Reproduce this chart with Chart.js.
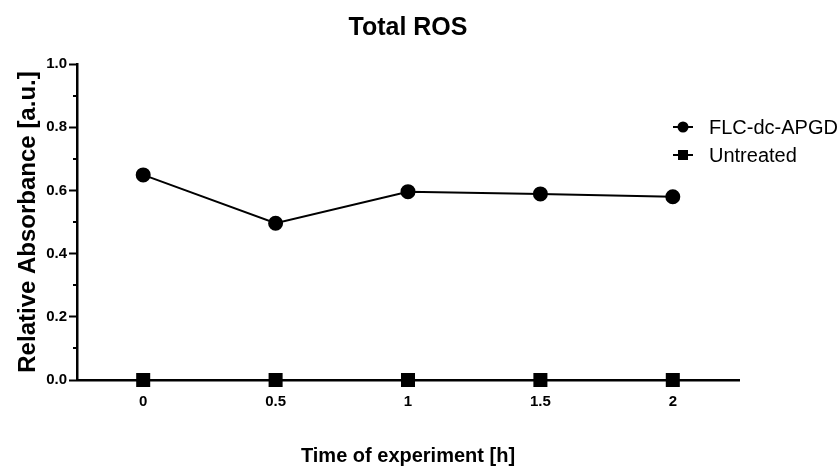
<!DOCTYPE html>
<html>
<head>
<meta charset="utf-8">
<script src="https://cdn.jsdelivr.net/npm/chart.js@4"></script>
<style>
  html, body { margin: 0; padding: 0; background: #fff; }
  #wrap { width: 837px; height: 466px; }
</style>
</head>
<body>
<div id="wrap"><canvas id="chart" width="837" height="466"></canvas></div>
<script>
const timeLabels = ["0", "0.5", "1", "1.5", "2"];
const flcValues = [0.649, 0.496, 0.596, 0.589, 0.580];
const untreatedValues = [0, 0, 0, 0, 0];
const seriesNames = ["FLC-dc-APGD", "Untreated"];
const minorTicks = [0.1, 0.3, 0.5, 0.7, 0.9];

const FONT = "'Liberation Sans', Arial, sans-serif";

/* minor ticks on the y axis */
const minorTickPlugin = {
  id: "minorTicks",
  afterDraw(chart) {
    const ctx = chart.ctx;
    const y = chart.scales.y;
    ctx.save();
    ctx.strokeStyle = "#000";
    ctx.lineWidth = 2;
    minorTicks.forEach((v) => {
      const py = Math.round(y.getPixelForValue(v));
      ctx.beginPath();
      ctx.moveTo(y.right - 4, py);
      ctx.lineTo(y.right, py);
      ctx.stroke();
    });
    ctx.restore();
  },
};

/* legend: short line with the marker on it, top right */
const sideLegend = {
  id: "sideLegend",
  afterDraw(chart) {
    const ctx = chart.ctx;
    const area = chart.chartArea;
    const x0 = area.right - 66;
    const ys = [area.top + 63, area.top + 91];
    ctx.save();
    chart.data.datasets.forEach((ds, i) => {
      const y = ys[i];
      ctx.strokeStyle = "#000";
      ctx.lineWidth = 2;
      ctx.beginPath();
      ctx.moveTo(x0, y);
      ctx.lineTo(x0 + 20, y);
      ctx.stroke();
      ctx.fillStyle = "#000";
      if (ds.pointStyle === "rect") {
        ctx.fillRect(x0 + 5, y - 5, 10, 10);
      } else {
        ctx.beginPath();
        ctx.arc(x0 + 10, y, 5.5, 0, Math.PI * 2);
        ctx.fill();
      }
      ctx.font = "20px " + FONT;
      ctx.textBaseline = "middle";
      ctx.textAlign = "left";
      ctx.fillText(ds.label, x0 + 36, y + 1);
    });
    ctx.restore();
  },
};

new Chart(document.getElementById("chart"), {
  type: "line",
  data: {
    labels: timeLabels,
    datasets: [
      {
        label: seriesNames[0],
        data: flcValues,
        borderColor: "#000",
        backgroundColor: "#000",
        borderWidth: 2,
        pointStyle: "circle",
        pointRadius: 6.5,
        pointHoverRadius: 6.5,
        clip: false,
      },
      {
        label: seriesNames[1],
        data: untreatedValues,
        borderColor: "#000",
        backgroundColor: "#000",
        borderWidth: 2,
        pointStyle: "rect",
        pointRadius: 8.5,
        pointHoverRadius: 8.5,
        clip: false,
      },
    ],
  },
  options: {
    responsive: false,
    animation: false,
    layout: { padding: { left: 0, right: 98, top: 0, bottom: 0 } },
    plugins: {
      legend: { display: false },
      tooltip: { enabled: false },
      title: {
        display: true,
        fullSize: false,
        text: "Total ROS",
        color: "#000",
        font: { family: FONT, size: 25, weight: "bold", lineHeight: 1.2 },
        padding: { top: 13, bottom: 21 },
      },
    },
    scales: {
      x: {
        type: "category",
        offset: true,
        afterFit: (s) => { s.height = 86; },
        border: { display: true, color: "#000", width: 2.5 },
        grid: { display: true, offset: false, drawOnChartArea: false, drawTicks: true, tickLength: 5, color: "#000", tickWidth: 2 },
        ticks: { color: "#000", font: { family: FONT, size: 15, weight: "bold" }, padding: 8 },
        title: {
          display: true,
          text: "Time of experiment [h]",
          color: "#000",
          font: { family: FONT, size: 20, weight: "bold", lineHeight: 1.2 },
          padding: { top: 0, bottom: -2 },
        },
      },
      y: {
        min: 0,
        max: 1,
        afterFit: (s) => { s.width = 77; },
        border: { display: true, color: "#000", width: 2.5 },
        grid: { display: true, drawOnChartArea: false, drawTicks: true, tickLength: 8, color: "#000", tickWidth: 2 },
        ticks: {
          stepSize: 0.2,
          color: "#000",
          font: { family: FONT, size: 15, weight: "bold" },
          padding: 2,
          callback: (v) => Number(v).toFixed(1),
        },
        title: {
          display: true,
          text: "Relative Absorbance [a.u.]",
          color: "#000",
          font: { family: FONT, size: 24, weight: "bold", lineHeight: 1.2 },
          padding: { top: 14, bottom: 0 },
        },
      },
    },
  },
  plugins: [minorTickPlugin, sideLegend],
});
</script>
</body>
</html>
